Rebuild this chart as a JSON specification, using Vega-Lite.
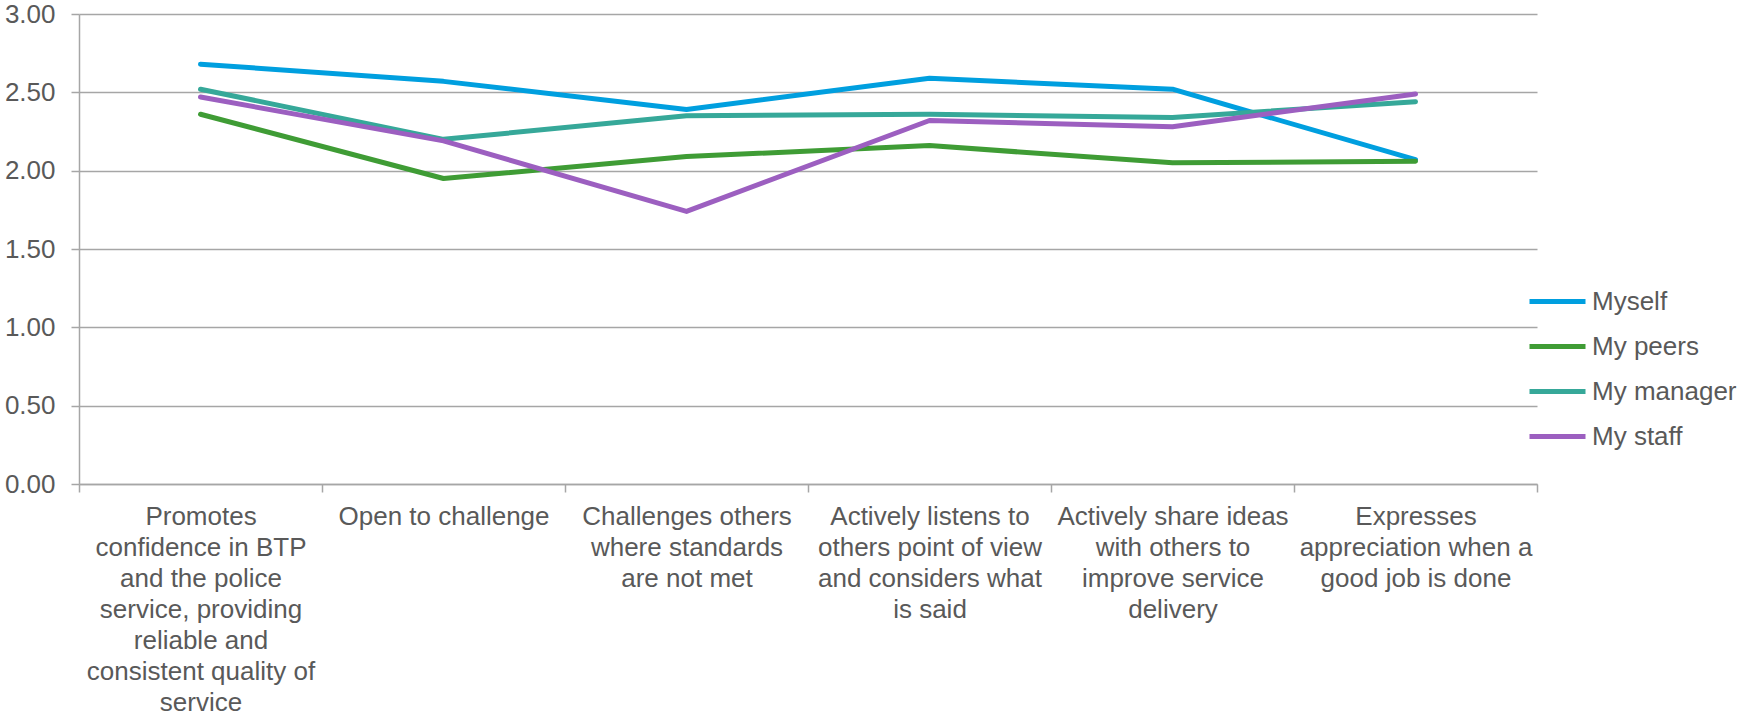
{
  "$schema": "https://vega.github.io/schema/vega-lite/v6.json",
  "width": 1458,
  "height": 470,
  "autosize": {"type": "none"},
  "padding": {"left": 79, "top": 14, "right": 200, "bottom": 230},
  "background": "white",
  "config": {
    "view": {"stroke": null},
    "font": "Liberation Sans",
    "axis": {"labelFont": "Liberation Sans", "labelColor": "#595959", "labelFontSize": 26, "domainColor": "#A6A6A6", "tickColor": "#A6A6A6", "gridColor": "#A6A6A6", "domainWidth": 1.5, "tickWidth": 1.5, "gridWidth": 1.5},
    "legend": {"labelFont": "Liberation Sans", "labelColor": "#595959", "labelFontSize": 26}
  },
  "data": {
    "values": [
      {"competency": "Promotes\nconfidence in BTP\nand the police\nservice, providing\nreliable and\nconsistent quality of\nservice", "rater": "Myself", "score": 2.68},
      {"competency": "Promotes\nconfidence in BTP\nand the police\nservice, providing\nreliable and\nconsistent quality of\nservice", "rater": "My peers", "score": 2.36},
      {"competency": "Promotes\nconfidence in BTP\nand the police\nservice, providing\nreliable and\nconsistent quality of\nservice", "rater": "My manager", "score": 2.52},
      {"competency": "Promotes\nconfidence in BTP\nand the police\nservice, providing\nreliable and\nconsistent quality of\nservice", "rater": "My staff", "score": 2.47},
      {"competency": "Open to challenge", "rater": "Myself", "score": 2.57},
      {"competency": "Open to challenge", "rater": "My peers", "score": 1.95},
      {"competency": "Open to challenge", "rater": "My manager", "score": 2.2},
      {"competency": "Open to challenge", "rater": "My staff", "score": 2.19},
      {"competency": "Challenges others\nwhere standards\nare not met", "rater": "Myself", "score": 2.39},
      {"competency": "Challenges others\nwhere standards\nare not met", "rater": "My peers", "score": 2.09},
      {"competency": "Challenges others\nwhere standards\nare not met", "rater": "My manager", "score": 2.35},
      {"competency": "Challenges others\nwhere standards\nare not met", "rater": "My staff", "score": 1.74},
      {"competency": "Actively listens to\nothers point of view\nand considers what\nis said", "rater": "Myself", "score": 2.59},
      {"competency": "Actively listens to\nothers point of view\nand considers what\nis said", "rater": "My peers", "score": 2.16},
      {"competency": "Actively listens to\nothers point of view\nand considers what\nis said", "rater": "My manager", "score": 2.36},
      {"competency": "Actively listens to\nothers point of view\nand considers what\nis said", "rater": "My staff", "score": 2.32},
      {"competency": "Actively share ideas\nwith others to\nimprove service\ndelivery", "rater": "Myself", "score": 2.52},
      {"competency": "Actively share ideas\nwith others to\nimprove service\ndelivery", "rater": "My peers", "score": 2.05},
      {"competency": "Actively share ideas\nwith others to\nimprove service\ndelivery", "rater": "My manager", "score": 2.34},
      {"competency": "Actively share ideas\nwith others to\nimprove service\ndelivery", "rater": "My staff", "score": 2.28},
      {"competency": "Expresses\nappreciation when a\ngood job is done", "rater": "Myself", "score": 2.07},
      {"competency": "Expresses\nappreciation when a\ngood job is done", "rater": "My peers", "score": 2.06},
      {"competency": "Expresses\nappreciation when a\ngood job is done", "rater": "My manager", "score": 2.44},
      {"competency": "Expresses\nappreciation when a\ngood job is done", "rater": "My staff", "score": 2.49}
    ]
  },
  "mark": {"type": "line", "strokeWidth": 5, "strokeCap": "round", "strokeJoin": "round"},
  "encoding": {
    "x": {
      "field": "competency",
      "type": "nominal",
      "sort": null,
      "scale": {"type": "band", "paddingInner": 0, "paddingOuter": 0},
      "axis": {
        "title": null,
        "labelAngle": 0,
        "labelAlign": "center",
        "labelBaseline": "top",
        "labelExpr": "split(datum.label, '\\n')",
        "labelLineHeight": 31,
        "labelPadding": 11,
        "labelLimit": 0,
        "tickBand": "extent",
        "tickSize": 8,
        "grid": false
      }
    },
    "y": {
      "field": "score",
      "type": "quantitative",
      "scale": {"domain": [0, 3], "nice": false, "zero": true},
      "axis": {
        "title": null,
        "values": [0, 0.5, 1, 1.5, 2, 2.5, 3],
        "format": ".2f",
        "tickSize": 8,
        "labelPadding": 16,
        "grid": true
      }
    },
    "color": {
      "field": "rater",
      "type": "nominal",
      "sort": ["Myself", "My peers", "My manager", "My staff"],
      "scale": {"domain": ["Myself", "My peers", "My manager", "My staff"], "range": ["#009FDF", "#3F9C35", "#36A899", "#9C5FC0"]},
      "legend": {
        "title": null,
        "orient": "none",
        "legendX": 1448,
        "legendY": 265,
        "symbolType": "stroke",
        "symbolSize": 3136,
        "symbolStrokeWidth": 5,
        "clipHeight": 45,
        "rowPadding": 0,
        "labelOffset": 4
      }
    }
  }
}
